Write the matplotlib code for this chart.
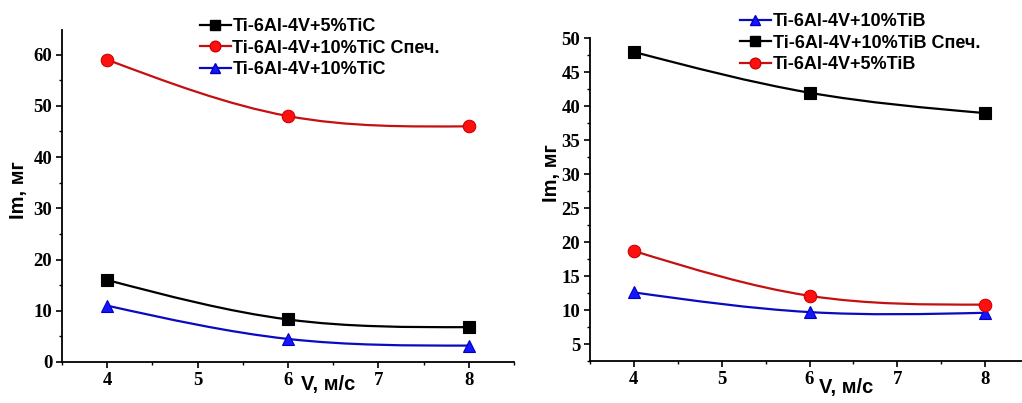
import numpy as np
import matplotlib
matplotlib.use("Agg")
import matplotlib.pyplot as plt
from matplotlib.path import Path
from matplotlib.patches import PathPatch
from matplotlib.lines import Line2D
from matplotlib.ticker import MultipleLocator

# ---- data ----
v = [4, 6, 8]

tic_labels = ["Ti-6Al-4V+5%TiC", "Ti-6Al-4V+10%TiC Спеч.", "Ti-6Al-4V+10%TiC"]
tic_5 = [16.0, 8.3, 6.8]
tic_10_sint = [59.0, 48.0, 46.0]
tic_10 = [11.0, 4.5, 3.2]

tib_labels = ["Ti-6Al-4V+10%TiB", "Ti-6Al-4V+10%TiB Спеч.", "Ti-6Al-4V+5%TiB"]
tib_10 = [12.6, 9.7, 9.6]
tib_10_sint = [48.0, 42.0, 39.0]
tib_5 = [18.7, 12.1, 10.8]

x_label = "V, м/с"
y_label = "Im, мг"

SANS = "Liberation Sans"
SERIF = "Liberation Serif"


def spline_path(x, y):
    """Natural cubic spline through points, expressed as Bezier path."""
    x = np.asarray(x, float)
    y = np.asarray(y, float)
    n = len(x)
    h = np.diff(x)
    A = np.zeros((n, n))
    b = np.zeros(n)
    A[0, 0] = 1
    A[-1, -1] = 1
    for i in range(1, n - 1):
        A[i, i - 1] = h[i - 1]
        A[i, i] = 2 * (h[i - 1] + h[i])
        A[i, i + 1] = h[i]
        b[i] = 6 * ((y[i + 1] - y[i]) / h[i] - (y[i] - y[i - 1]) / h[i - 1])
    M = np.linalg.solve(A, b)
    verts = [(x[0], y[0])]
    codes = [Path.MOVETO]
    for i in range(n - 1):
        d0 = (y[i + 1] - y[i]) / h[i] - h[i] * (2 * M[i] + M[i + 1]) / 6
        d1 = (y[i + 1] - y[i]) / h[i] + h[i] * (M[i] + 2 * M[i + 1]) / 6
        verts += [(x[i] + h[i] / 3, y[i] + d0 * h[i] / 3),
                  (x[i + 1] - h[i] / 3, y[i + 1] - d1 * h[i] / 3),
                  (x[i + 1], y[i + 1])]
        codes += [Path.CURVE4] * 3
    return Path(verts, codes)


LW = 1.6


def draw_series(ax, x, y, line_color, face, edge, marker, ms):
    ax.add_patch(PathPatch(spline_path(x, y), facecolor="none",
                           edgecolor=line_color, lw=LW, zorder=2))
    ax.plot(x, y, ls="none", marker=marker, ms=ms, mfc=face, mec=edge,
            mew=0.8, zorder=3, clip_on=False)
    return Line2D([], [], color=line_color, lw=LW, marker=marker, ms=ms * 0.85,
                  mfc=face, mec=edge)


def style_axes(ax, ymajor, yminor, yticks):
    for s in ("top", "right"):
        ax.spines[s].set_visible(False)
    for s in ("left", "bottom"):
        ax.spines[s].set_linewidth(1.3)
    ax.xaxis.set_major_locator(MultipleLocator(1))
    ax.xaxis.set_minor_locator(MultipleLocator(0.5))
    ax.yaxis.set_major_locator(MultipleLocator(ymajor))
    ax.yaxis.set_minor_locator(MultipleLocator(yminor))
    ax.set_yticks(yticks)
    ax.tick_params(which="major", direction="out", length=4, width=1.2, pad=3)
    ax.tick_params(which="minor", direction="out", length=2.5, width=1.0)
    for lab in ax.get_xticklabels() + ax.get_yticklabels():
        lab.set_fontfamily(SERIF)
        lab.set_fontweight("bold")
        lab.set_fontsize(13.5)


fig = plt.figure(figsize=(10.22, 4.03), dpi=100)

BLACK = "#000000"
RED_LINE = "#c41010"
RED_FACE = "#ff1010"
RED_EDGE = "#d00000"
BLUE_LINE = "#0a0ac0"
BLUE_FACE = "#1515ff"
BLUE_EDGE = "#0000c0"

LEG_PROP = {"family": SANS, "weight": "bold", "size": 13}

# ---- left panel ----
ax1 = fig.add_axes([62 / 1022, 41 / 403, 452 / 1022, 332 / 403])
ax1.set_xlim(3.5, 8.5)
ax1.set_ylim(0, 64.8)
h1 = draw_series(ax1, v, tic_5, BLACK, BLACK, BLACK, "s", 8.5)
h2 = draw_series(ax1, v, tic_10_sint, RED_LINE, RED_FACE, RED_EDGE, "o", 9)
h3 = draw_series(ax1, v, tic_10, BLUE_LINE, BLUE_FACE, BLUE_EDGE, "^", 9)
style_axes(ax1, 10, 5, [0, 10, 20, 30, 40, 50, 60])
ax1.set_xlabel(x_label, fontfamily=SANS, fontweight="bold", fontsize=14.5, va="center")
ax1.xaxis.set_label_coords(0.588, -0.069)
ax1.set_ylabel(y_label, fontfamily=SANS, fontweight="bold", fontsize=14.5, va="center")
ax1.yaxis.set_label_coords(-0.097, 0.518)
ax1.legend([h1, h2, h3], tic_labels, loc="upper left", bbox_to_anchor=(0.305, 1.036),
           frameon=False, borderpad=0, borderaxespad=0, handlelength=1.7,
           handletextpad=0.1, labelspacing=0.25, prop=LEG_PROP)

# ---- right panel ----
ax2 = fig.add_axes([590 / 1022, 42 / 403, 439 / 1022, 323.3 / 403])
ax2.set_xlim(3.5, 8.5)
ax2.set_ylim(2.5, 50.1)
g1 = draw_series(ax2, v, tib_10, BLUE_LINE, BLUE_FACE, BLUE_EDGE, "^", 9)
g2 = draw_series(ax2, v, tib_10_sint, BLACK, BLACK, BLACK, "s", 8.5)
g3 = draw_series(ax2, v, tib_5, RED_LINE, RED_FACE, RED_EDGE, "o", 9)
style_axes(ax2, 5, 2.5, [5, 10, 15, 20, 25, 30, 35, 40, 45, 50])
ax2.set_xlabel(x_label, fontfamily=SANS, fontweight="bold", fontsize=14.5, va="center")
ax2.xaxis.set_label_coords(0.583, -0.0835)
ax2.set_ylabel(y_label, fontfamily=SANS, fontweight="bold", fontsize=14.5, va="center")
ax2.yaxis.set_label_coords(-0.087, 0.58)
ax2.legend([g1, g2, g3], tib_labels, loc="upper left", bbox_to_anchor=(0.342, 1.076),
           frameon=False, borderpad=0, borderaxespad=0, handlelength=1.7,
           handletextpad=0.1, labelspacing=0.25, prop=LEG_PROP)

fig.savefig("out.png", dpi=100)
